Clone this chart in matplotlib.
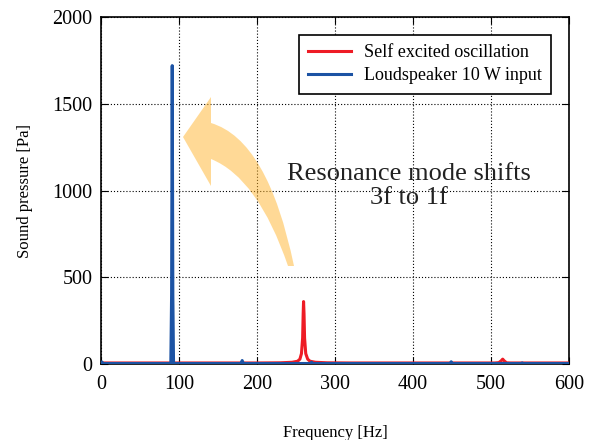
import matplotlib.pyplot as plt
from matplotlib.path import Path
from matplotlib.patches import PathPatch

plt.rcParams['font.family'] = ['Liberation Serif', 'DejaVu Serif']

# self excited oscillation spectrum
self_f = [0, 50, 100, 150, 200, 230, 245, 252, 255, 257, 258.5, 259.2, 259.7,
          260.3, 261, 262.5, 265, 268, 275, 290, 320, 400, 480, 505, 510, 513,
          515, 517, 520, 525, 560, 600]
self_p = [6, 6, 6, 6, 6, 7, 10, 16, 28, 60, 150, 290, 360,
          290, 150, 60, 28, 16, 10, 7, 6, 6, 6, 6, 8, 18,
          28, 18, 7, 6, 6, 6]

# loudspeaker 10 W input spectrum
spk_f = [0, 1, 3, 50, 89.5, 90.5, 91.3, 92.1, 93, 150, 179.5, 181, 182.5,
         230, 268.5, 270, 271.5, 350, 447.5, 449, 450.5, 538.5, 540, 541.5, 600]
spk_p = [2, 12, 3, 3, 3, 400, 1720, 400, 3, 3, 3, 20, 3,
         3, 3, 10, 3, 3, 3, 13, 3, 3, 6, 3, 3]

fig = plt.figure(figsize=(5.89, 4.40), dpi=100)
ax = fig.add_axes([0.1715, 0.1727, 0.7945, 0.7885])

ax.plot(self_f, self_p, color='#ee1c25', lw=2.2, label='Self excited oscillation', zorder=3)
ax.plot(spk_f, spk_p, color='#1c53a4', lw=2.2, label='Loudspeaker 10 W input', zorder=3)

ax.set_xlim(0, 600)
ax.set_ylim(0, 2000)
ax.set_xticks([0, 100, 200, 300, 400, 500, 600])
ax.set_yticks([0, 500, 1000, 1500, 2000])
ax.tick_params(direction='in', top=True, right=True, labelsize=14.5, length=5)
ax.tick_params(axis='x', pad=8)
ax.tick_params(axis='y', pad=6)
ax.grid(True, color='black', linestyle=(0, (1, 1.8)), lw=0.8)
for s in ax.spines.values():
    s.set_linewidth(1.2)

ax.set_xlabel('Frequency [Hz]', fontsize=12, labelpad=22)
ax.set_ylabel('Sound pressure [Pa]', fontsize=12, labelpad=14)

leg = ax.legend(loc='upper right', fontsize=13, fancybox=False, framealpha=1,
                edgecolor='black', borderaxespad=1.0, handlelength=2.4,
                borderpad=0.5, labelspacing=0.35, handletextpad=0.7)
leg.get_frame().set_linewidth(1.2)

# curved arrow, drawn in figure pixel space (y from top)
W, H = 589, 440
def px(x, y):
    return (x / W, 1 - y / H)

verts = [px(211, 123), px(268, 140), px(294, 266), px(288, 266),
         px(258, 178), px(211, 159), px(211, 186), px(183, 137),
         px(211, 97), px(211, 123)]
codes = [Path.MOVETO, Path.CURVE3, Path.CURVE3, Path.LINETO,
         Path.CURVE3, Path.CURVE3, Path.LINETO, Path.LINETO,
         Path.LINETO, Path.CLOSEPOLY]
arrow = PathPatch(Path(verts, codes), transform=fig.transFigure,
                  facecolor='#ffb52e', edgecolor='none', alpha=0.5, zorder=2)
fig.patches.append(arrow)

fig.text(409 / W, 1 - 186 / H, 'Resonance mode shifts\n3f to 1f', ha='center',
         va='center', fontsize=19, color='#222222', linespacing=1.12)

fig.savefig('out.png', dpi=100)
